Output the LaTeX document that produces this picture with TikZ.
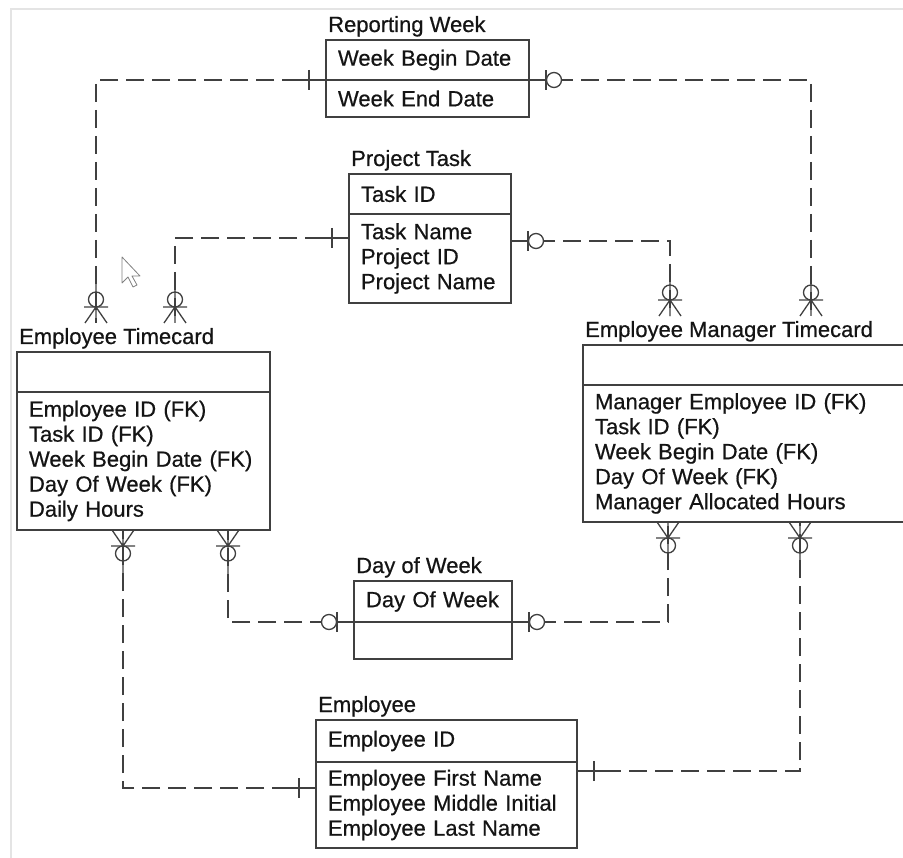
\documentclass[tikz,border=0pt]{standalone}
\usepackage{fontspec}
\setmainfont{Liberation Sans}[FakeBold=0.6]
\usetikzlibrary{positioning, calc}
\definecolor{erline}{RGB}{64,64,64}
\definecolor{ertext}{RGB}{20,20,20}
\definecolor{framegray}{RGB}{228,228,228}
\newcommand{\erfont}{\fontsize{22}{25}\selectfont}
\tikzset{
    entitytitle/.style={
        anchor=base west, inner sep=0pt, text=ertext, font=\erfont
    },
    keybox/.style={
        rectangle, draw=erline, line width=1.3pt, anchor=north west, outer sep=0pt,
        align=left, inner xsep=12pt, inner ysep=0pt, text=ertext, font=\erfont
    },
    attrbox/.style={keybox, anchor=north},
    relation/.style={draw=erline, line width=1.5pt, dash pattern=on 18pt off 8pt},
    symline/.style={draw=erline, line width=1.3pt},
    zeromany/.pic={
        \draw[symline] (-11,0) -- (0,16) -- (11,0) (0,0) -- (0,46) (-12,16) -- (12,16);
        \draw[symline] (0,23.5) circle[radius=7.5];
    },
    zeroone/.pic={
        \draw[symline] (0,0) -- (17,0) (17,-10) -- (17,10);
        \draw[symline, fill=white] (25,0) circle[radius=7.5];
    },
    exactone/.pic={
        \draw[symline] (0,0) -- (26,0) (17,-10) -- (17,10);
    }
}

\begin{document}
\begin{tikzpicture}[x=1pt, y=1pt]

\useasboundingbox (0,0) rectangle (903,-858);
\clip (0,0) rectangle (903,-858);

% screenshot frame
\draw[framegray, line width=2pt] (11,-858) -- (11,-9) -- (903,-9);

% Reporting Week
\node[keybox, text width=179pt, minimum height=40pt] (rwkey) at (326,-40) {Week Begin Date};
\node[attrbox, text width=179pt, minimum height=37pt, below=0pt of rwkey] (rwattr) {Week End Date};
\node[entitytitle] (rwtitle) at ($(rwkey.north west)+(2,8)$) {Reporting Week};

% Project Task
\node[keybox, text width=138pt, minimum height=40pt] (ptkey) at (349,-174) {Task ID};
\node[attrbox, text width=138pt, minimum height=89pt, below=0pt of ptkey] (ptattr) {Task Name\\Project ID\\Project Name};
\node[entitytitle] (pttitle) at ($(ptkey.north west)+(2,8)$) {Project Task};

% Employee Timecard
\node[keybox, text width=229pt, minimum height=40pt] (etkey) at (17,-352) {};
\node[attrbox, text width=229pt, minimum height=138pt, below=0pt of etkey] (etattr) {Employee ID (FK)\\Task ID (FK)\\Week Begin Date (FK)\\Day Of Week (FK)\\Daily Hours};
\node[entitytitle] (ettitle) at ($(etkey.north west)+(2,8)$) {Employee Timecard};

% Employee Manager Timecard
\node[keybox, text width=316pt, minimum height=40pt] (emtkey) at (583,-345) {};
\node[attrbox, text width=316pt, minimum height=137pt, below=0pt of emtkey] (emtattr) {Manager Employee ID (FK)\\Task ID (FK)\\Week Begin Date (FK)\\Day Of Week (FK)\\Manager Allocated Hours};
\node[entitytitle] (emttitle) at ($(emtkey.north west)+(2,8)$) {Employee Manager Timecard};

% Day of Week
\node[keybox, text width=134pt, minimum height=41pt] (dowkey) at (354,-581) {Day Of Week};
\node[attrbox, text width=134pt, minimum height=37pt, below=0pt of dowkey] (dowattr) {};
\node[entitytitle] (dowtitle) at ($(dowkey.north west)+(2,8)$) {Day of Week};

% Employee
\node[keybox, text width=237pt, minimum height=42pt] (empkey) at (316,-720) {Employee ID};
\node[attrbox, text width=237pt, minimum height=86pt, below=0pt of empkey] (empattr) {Employee First Name\\Employee Middle Initial\\Employee Last Name};
\node[entitytitle] (emptitle) at ($(empkey.north west)+(2,8)$) {Employee};

% Relationship ends
\coordinate (etA) at (96,-323);
\coordinate (etB) at (175,-323);
\coordinate (emtA) at (670,-316);
\coordinate (emtB) at (811,-316);
\coordinate (etC) at ($(etattr.south west)+(106,0)$);
\coordinate (etD) at ($(etattr.south west)+(211,0)$);
\coordinate (emtC) at ($(emtattr.south west)+(85,0)$);
\coordinate (emtD) at ($(emtattr.south west)+(217,0)$);
\coordinate (ptL) at ($(ptattr.north west)+(0,-24)$);
\coordinate (ptR) at ($(ptattr.north east)+(0,-27)$);
\coordinate (empL) at ($(empattr.north west)+(0,-26)$);
\coordinate (empR) at ($(empattr.north east)+(0,-9)$);

% Relationships
\draw[relation] (rwkey.south west) -| (etA);
\draw[relation] (ptL) -| (etB);
\draw[relation] (rwkey.south east) -| (emtB);
\draw[relation] (ptR) -| (emtA);
\draw[relation] (empL) -| (etC);
\draw[relation] (dowkey.south west) -| (etD);
\draw[relation] (dowkey.south east) -| (emtC);
\draw[relation] (empR) -| (emtD);

% Cardinality symbols
\pic at (etA) {zeromany};
\pic at (etB) {zeromany};
\pic at (emtA) {zeromany};
\pic at (emtB) {zeromany};
\pic[rotate=180] at (etC) {zeromany};
\pic[rotate=180] at (etD) {zeromany};
\pic[rotate=180] at (emtC) {zeromany};
\pic[rotate=180] at (emtD) {zeromany};
\pic[rotate=180] at (rwkey.south west) {exactone};
\pic at (rwkey.south east) {zeroone};
\pic[rotate=180] at (ptL) {exactone};
\pic at (ptR) {zeroone};
\pic[rotate=180] at (empL) {exactone};
\pic at (empR) {exactone};
\pic[rotate=180] at (dowkey.south west) {zeroone};
\pic at (dowkey.south east) {zeroone};

% mouse pointer
\draw[gray, fill=white, line width=0.8pt, line join=round] (122,-257) -- ++(0,-26) -- ++(6,6) -- ++(5,-10) -- ++(4,2) -- ++(-5,9) -- ++(8,0) -- cycle;

\end{tikzpicture}
\end{document}
